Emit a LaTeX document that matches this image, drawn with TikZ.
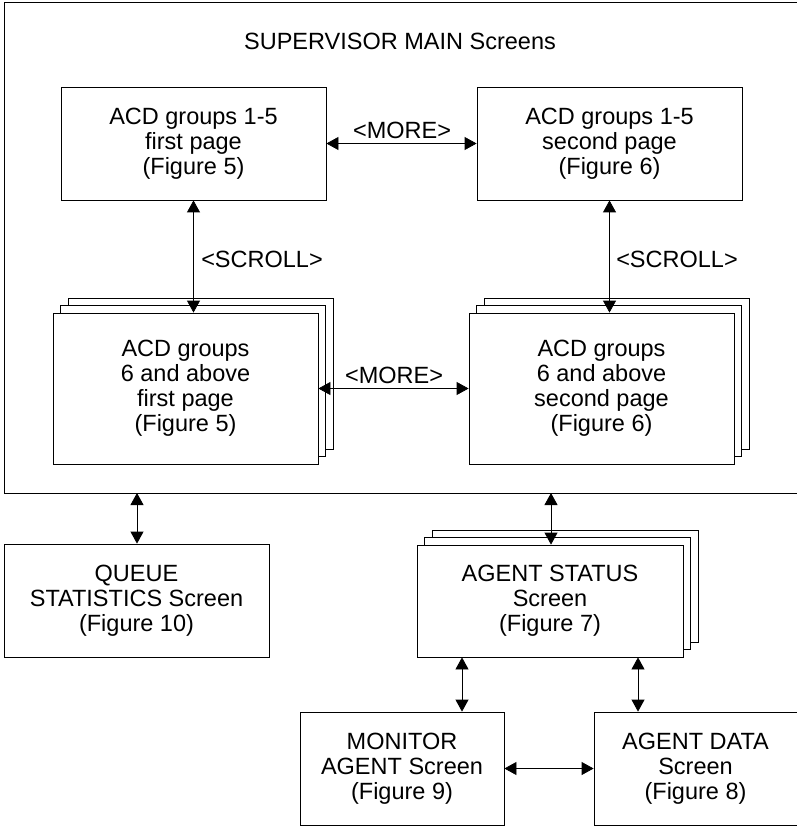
\documentclass[tikz,border=0pt]{standalone}
\usepackage{fontspec}
\setmainfont{Liberation Sans}
\usetikzlibrary{arrows.meta,shadows}
\begin{document}
\begin{tikzpicture}[x=1pt,y=-1pt,
  txt/.style={font=\fontsize{23.5}{25}\selectfont},
  box/.style={txt, draw, fill=white, line width=0.8pt, align=center, inner sep=0pt},
  stackbox/.style={box,
    copy shadow={shadow xshift=15pt, shadow yshift=15pt},
    copy shadow={shadow xshift=7.5pt, shadow yshift=7.5pt}},
  link/.style={line width=0.8pt, {Triangle[length=12pt,width=13pt]}-{Triangle[length=12pt,width=13pt]}},
  lbl/.style={txt, inner sep=0pt}]
\useasboundingbox (0,0) rectangle (796,826);
\draw[line width=0.8pt] (798,2) -- (4,2) -- (4,493) -- (798,493);
\node[lbl] (title) at (400,41) {SUPERVISOR MAIN Screens};

\node[box, minimum width=265pt, minimum height=113pt] (a1) at (193.5,143.5) {ACD groups 1-5\\first page\\(Figure 5)};
\node[box, minimum width=265pt, minimum height=113pt] (a2) at (609.5,143.5) {ACD groups 1-5\\second page\\(Figure 6)};
\node[stackbox, minimum width=265pt, minimum height=151pt] (b1) at (185.5,388.5) {ACD groups\\6 and above\\first page\\(Figure 5)};
\node[stackbox, minimum width=265pt, minimum height=151pt] (b2) at (601.5,388.5) {ACD groups\\6 and above\\second page\\(Figure 6)};

\node[box, minimum width=265pt, minimum height=113pt] (q) at (136.5,600.5) {QUEUE\\STATISTICS Screen\\(Figure 10)};
\node[stackbox, minimum width=266pt, minimum height=112pt] (as) at (550,601) {AGENT STATUS\\Screen\\(Figure 7)};
\node[box, minimum width=204pt, minimum height=113pt] (mon) at (402,768.5) {MONITOR\\AGENT Screen\\(Figure 9)};
\node[box, minimum width=203pt, minimum height=113pt] (ad) at (695.5,768.5) {AGENT DATA\\Screen\\(Figure 8)};

\coordinate (f1) at (137,493);
\coordinate (f2) at (551,493);

\draw[link] (a1.east) -- (a2.west);
\draw[link] (a1.south) -- (a1.south |- b1.north);
\draw[link] (a2.south) -- (a2.south |- b2.north);
\draw[link] (b1.east) -- (b2.west);
\draw[link] (f1) -- (f1 |- q.north);
\draw[link] (f2) -- (f2 |- as.north);
\draw[link] ([xshift=-88pt]as.south) -- ([xshift=-88pt]as.south |- mon.north);
\draw[link] ([xshift=88pt]as.south) -- ([xshift=88pt]as.south |- ad.north);
\draw[link] (mon.east) -- (ad.west);

\node[lbl] (m1) at (402,130) {<MORE>};
\node[lbl] (s1) at (262,259) {<SCROLL>};
\node[lbl] (s2) at (677,259) {<SCROLL>};
\node[lbl] (m2) at (394,375) {<MORE>};
\end{tikzpicture}
\end{document}
